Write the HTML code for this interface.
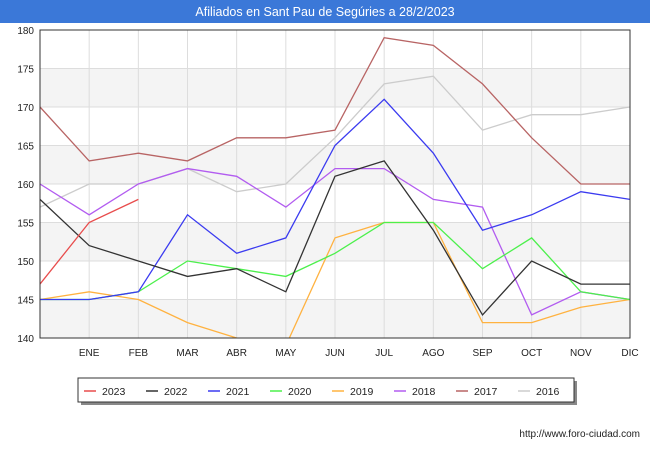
<!DOCTYPE html>
<html><head><meta charset="utf-8"><style>
body{margin:0;background:#fff;font-family:"Liberation Sans",sans-serif}
</style></head><body>
<svg width="650" height="450" xmlns="http://www.w3.org/2000/svg" id="svg">
<rect x="0" y="0" width="650" height="450" fill="#fff"/>
<rect x="0" y="0" width="650" height="23" fill="#3b78d8"/>
<text x="325" y="16" text-anchor="middle" fill="#fff" font-size="12.5" font-family="Liberation Sans">Afiliados en Sant Pau de Segúries a 28/2/2023</text>
<defs><clipPath id="cp"><rect x="40" y="30" width="590" height="308"/></clipPath></defs>
<g id="grid"></g>
<g id="series" clip-path="url(#cp)"></g>
<rect x="40" y="30" width="590" height="308" fill="none" stroke="#333" stroke-width="1"/>
<g id="axes"></g>
<rect x="81" y="381" width="496" height="24" fill="#888"/>
<rect x="78" y="378" width="496" height="24" fill="#fff" stroke="#333"/>
<g id="legend"></g>
<text x="640" y="437" text-anchor="end" font-size="10" fill="#222">http://www.foro-ciudad.com</text>
</svg>
<script>
const months=["","ENE","FEB","MAR","ABR","MAY","JUN","JUL","AGO","SEP","OCT","NOV","DIC"];
const yTicks=[140,145,150,155,160,165,170,175,180];
const seriesNames=["2023","2022","2021","2020","2019","2018","2017","2016"];
const colors=["#e84c4c","#333333","#3b3bf0","#4cf04c","#ffb240","#b25cf0","#b86464","#cccccc"];
const v2023=[147,155,158];
const v2022=[158,152,150,148,149,146,161,163,154,143,150,147,147];
const v2021=[145,145,146,156,151,153,165,171,164,154,156,159,158];
const v2020=[145,145,146,150,149,148,151,155,155,149,153,146,145];
const v2019=[145,146,145,142,140,139,153,155,155,142,142,144,145];
const v2018=[160,156,160,162,161,157,162,162,158,157,143,146,145];
const v2017=[170,163,164,163,166,166,167,179,178,173,166,160,160];
const v2016=[157,160,160,162,159,160,166,173,174,167,169,169,170];
const allVals=[v2023,v2022,v2021,v2020,v2019,v2018,v2017,v2016];
const NS="http://www.w3.org/2000/svg";
const X=i=>40+i*590/12, Y=v=>338-(v-140)*308/40;
function mk(t,a,p){const e=document.createElementNS(NS,t);for(const k in a)e.setAttribute(k,a[k]);p.appendChild(e);return e;}
const grid=document.getElementById('grid'),axes=document.getElementById('axes');
for(let k=0;k<8;k++){if(k%2===0){const r=mk('rect',{x:40,y:Y(yTicks[k+1]),width:590,height:Y(yTicks[k])-Y(yTicks[k+1]),fill:'#f4f4f4'},grid);

}}
yTicks.forEach(t=>{const l=mk('line',{x1:40,x2:630,y1:Y(t),y2:Y(t),stroke:'#ddd'},grid);


const tx=mk('text',{x:34,y:Y(t)+4,'text-anchor':'end','font-size':10,fill:'#222'},axes);tx.textContent=t;

});
months.forEach((m,i)=>{const l=mk('line',{x1:X(i),x2:X(i),y1:30,y2:338,stroke:'#ddd'},grid);


if(m){const tx=mk('text',{x:X(i),y:356,'text-anchor':'middle','font-size':10,fill:'#222'},axes);tx.textContent=m;

}});
const sg=document.getElementById('series');
for(let s=allVals.length-1;s>=0;s--){const pts=allVals[s].map((v,i)=>X(i)+','+Y(v)).join(' ');
const p=mk('polyline',{points:pts,fill:'none',stroke:colors[s],'stroke-width':1.3},sg);

}
const lg=document.getElementById('legend');
seriesNames.forEach((n,i)=>{const x0=84+i*62;
const l=mk('line',{x1:x0,x2:x0+12,y1:391,y2:391,stroke:colors[i],'stroke-width':1.5},lg);


const t=mk('text',{x:x0+18,y:395,'font-size':10.5,fill:'#222'},lg);t.textContent=n;

});
</script>
</body></html>
